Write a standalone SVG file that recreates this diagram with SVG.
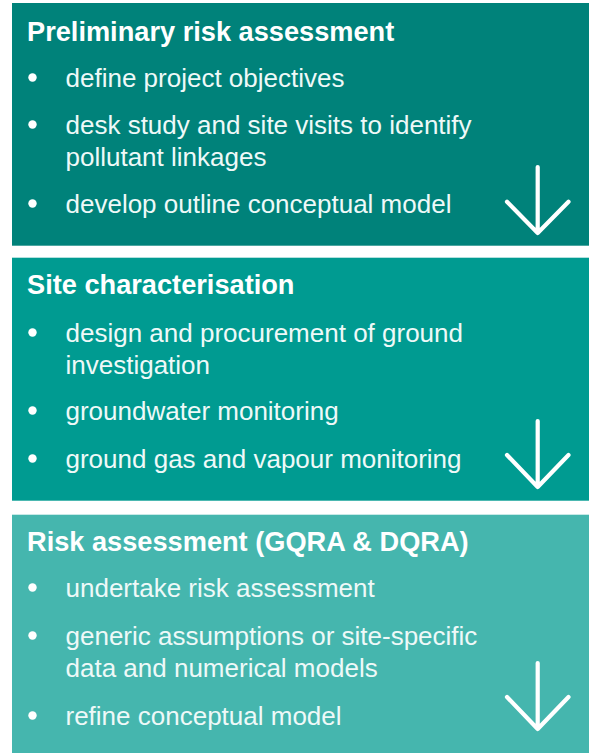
<svg xmlns="http://www.w3.org/2000/svg" width="589" height="753" viewBox="0 0 589 753">
<style>
.title{font-family:"Liberation Sans",Arial,sans-serif;font-weight:bold;font-size:27.2px;fill:#ffffff}
.item{font-family:"Liberation Sans",Arial,sans-serif;font-size:26px;fill:#eef9f8}
.dot{fill:#ffffff}
.arrow{fill:none;stroke:#ffffff;stroke-width:4.2;stroke-linecap:round;stroke-linejoin:round}
</style>
<rect x="0" y="0" width="589" height="753" fill="#ffffff"/>
<g id="box1">
<rect x="12" y="3" width="577" height="242.7" fill="#00827A"/>
<text class="title" x="27" y="40.5">Preliminary risk assessment</text>
<circle class="dot" cx="32.5" cy="77.5" r="4.2"/>
<text class="item" x="65.5" y="86.5">define project objectives</text>
<circle class="dot" cx="32.5" cy="124.5" r="4.2"/>
<text class="item" x="65.5" y="133.5">desk study and site visits to identify</text>
<text class="item" x="65.5" y="165.5">pollutant linkages</text>
<circle class="dot" cx="32.5" cy="203.5" r="4.2"/>
<text class="item" x="65.5" y="212.5">develop outline conceptual model</text>
</g>
<g id="box2">
<rect x="12" y="257.7" width="577" height="243" fill="#009B91"/>
<text class="title" x="27" y="293.5">Site characterisation</text>
<circle class="dot" cx="32.5" cy="332.5" r="4.2"/>
<text class="item" x="65.5" y="341.5">design and procurement of ground</text>
<text class="item" x="65.5" y="373.5">investigation</text>
<circle class="dot" cx="32.5" cy="410.5" r="4.2"/>
<text class="item" x="65.5" y="419.5">groundwater monitoring</text>
<circle class="dot" cx="32.5" cy="458.5" r="4.2"/>
<text class="item" x="65.5" y="467.5">ground gas and vapour monitoring</text>
</g>
<g id="box3">
<rect x="12" y="514.7" width="577" height="238.3" fill="#45B6AE"/>
<text class="title" x="27" y="550.5">Risk assessment (GQRA &amp; DQRA)</text>
<circle class="dot" cx="32.5" cy="587.5" r="4.2"/>
<text class="item" x="65.5" y="596.5">undertake risk assessment</text>
<circle class="dot" cx="32.5" cy="635.5" r="4.2"/>
<text class="item" x="65.5" y="644.5">generic assumptions or site-specific</text>
<text class="item" x="65.5" y="676.5">data and numerical models</text>
<circle class="dot" cx="32.5" cy="715.5" r="4.2"/>
<text class="item" x="65.5" y="724.5">refine conceptual model</text>
</g>
<g id="connectors">
<path class="arrow" d="M537.7 167 V233 M507 201.7 L537.7 233 L568.5 201.7"/>
<path class="arrow" d="M537.7 421 V487 M507 455 L537.7 487 L568.5 455"/>
<path class="arrow" d="M537.7 663 V729 M507 697 L537.7 729 L568.5 697"/>
</g>
</svg>
